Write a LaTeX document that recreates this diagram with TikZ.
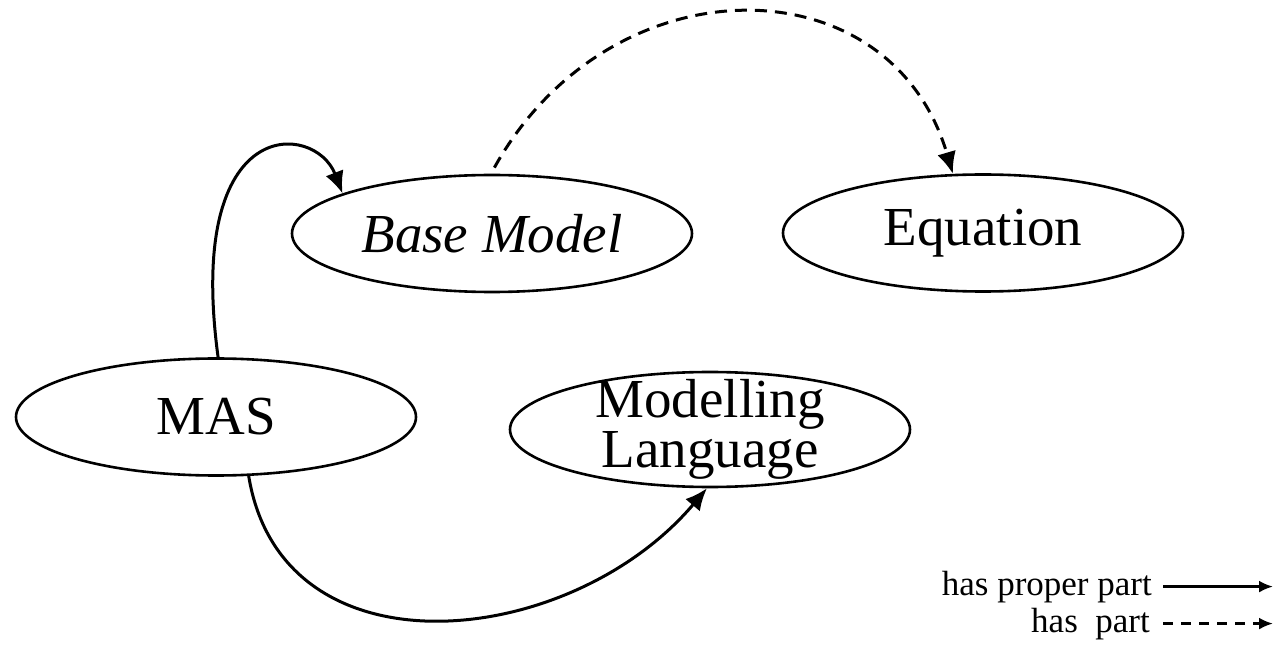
\documentclass[tikz,border=0pt]{standalone}
\usepackage{fontspec}
\setmainfont{Liberation Serif}
\usetikzlibrary{shapes.geometric,arrows.meta}
\tikzset{
  ell/.style={draw, line width=2.6pt, ellipse, minimum width=400pt, minimum height=117pt, inner sep=0pt},
  lab/.style={font=\fontsize{55}{50}\selectfont, inner sep=0pt, align=center},
  pp/.style={line width=3pt, -{Latex[length=22pt,width=19pt]}},
  hp/.style={pp, dash pattern=on 12pt off 8pt},
  leg/.style={font=\fontsize{35}{40}\selectfont, inner sep=0pt, anchor=base east},
  legp/.style={line width=2.4pt, -{Latex[length=14pt,width=12pt]}},
  legh/.style={legp, dash pattern=on 10pt off 8pt}
}
\begin{document}
\begin{tikzpicture}[x=1pt,y=-1pt]
\useasboundingbox (0,0) rectangle (1278,668);
% ellipses
\node[ell] (bm) at (492,233.5) {};
\node[lab] (bmt) at (bm) {\itshape Base Model};
\node[ell] (eq) at (983,233) {};
\node[lab] (eqt) at (eq) {Equation};
\node[ell] (mas) at (216,417) {};
\node[lab] (mast) at (mas) {MAS};
\node[ell, minimum height=115pt] (ml) at (710,429.5) {};
\node[lab] (mlt) at (ml) {Modelling\\Language};
% connectors
\draw[pp] (mas.88) .. controls (185,112) and (315,122) .. (bm.165);
\draw[pp] (mas.-61) .. controls (282,680) and (570,650) .. (ml.-93);
\draw[hp, shorten <=7pt] (bm.91) .. controls (610,-40) and (890,-40) .. (eq.117);
% legend
\node[leg] (lg1) at (1152,595) {has proper part};
\node[leg] (lg2) at (1150,632) {has~~part};
\coordinate (le1) at (1273,588);
\coordinate (le2) at (1273,624);
\draw[legp] ([xshift=11pt]lg1.east) -- (lg1.east -| le1);
\draw[legh] ([xshift=13pt]lg2.east) -- (lg2.east -| le2);
\end{tikzpicture}
\end{document}
